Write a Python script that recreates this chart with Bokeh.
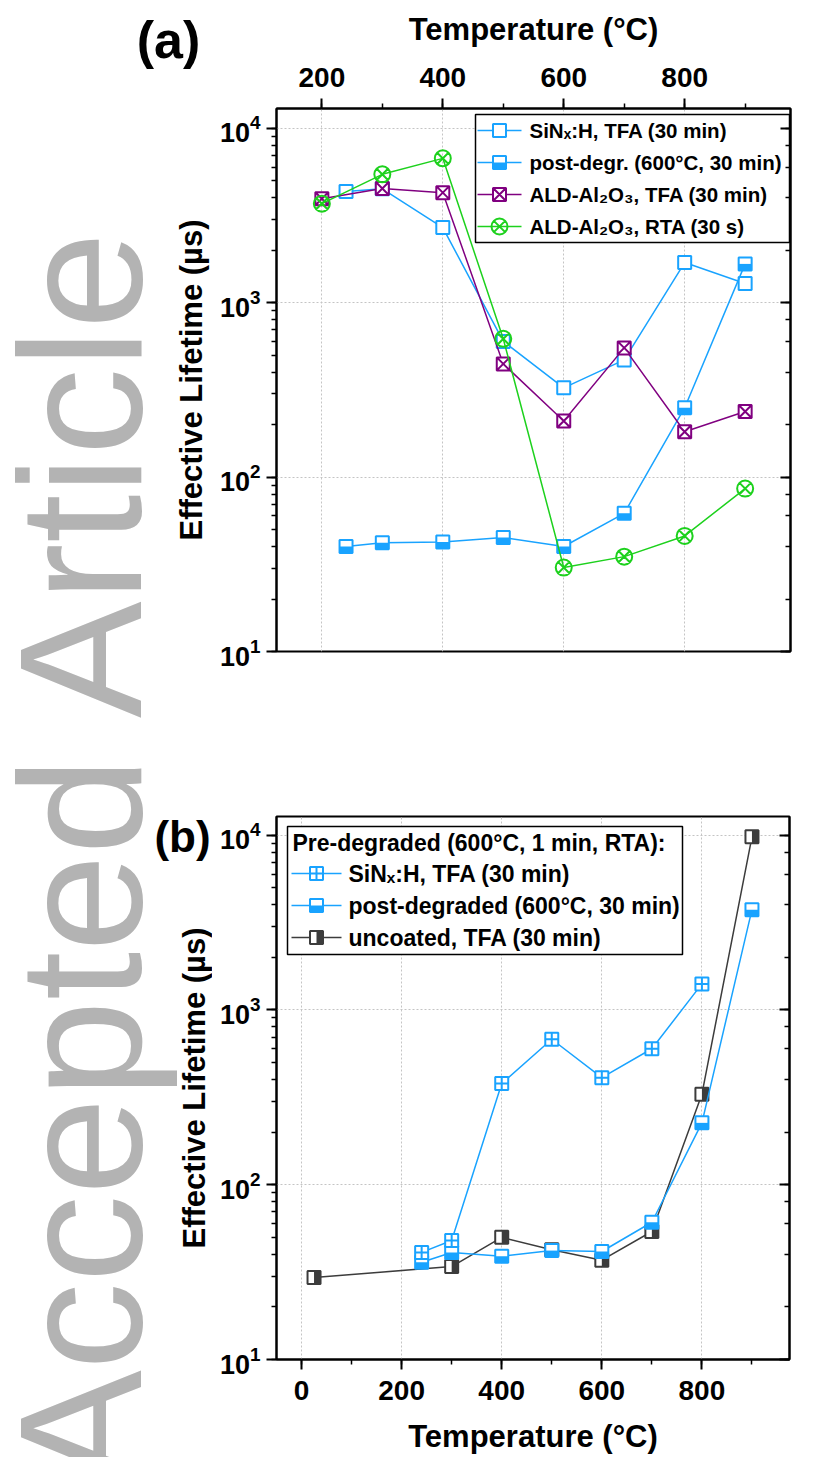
import numpy as np
from bokeh.plotting import figure
from bokeh.models import (Range1d, LogAxis, LogTicker, SingleIntervalTicker,
                          CustomJSTickFormatter)
from bokeh.layouts import column, row
from bokeh.embed import file_html
from bokeh.resources import INLINE
from bokeh.core.properties import value

# ---------------- data ----------------
# panel (a)
temps_a = [240, 300, 400, 500, 600, 700, 800, 900]
sin_tfa_a = [4350, 4500, 2700, 600, 325, 470, 1700, 1290]
post_degr_a = [40, 42, 42.5, 45, 40, 62, 250, 1670]
temps_ald = [200, 300, 400, 500, 600, 700, 800, 900]
ald_tfa = [3950, 4520, 4280, 446, 210, 551, 182, 238]
ald_rta = [3700, 5450, 6730, 621, 30.3, 35, 46, 86]

# panel (b)
temps_b_sin = [240, 300, 400, 500, 600, 700, 800]
sin_tfa_b = [41, 48, 380, 680, 410, 600, 1410]
temps_b_post = [240, 300, 400, 500, 600, 700, 800, 900]
post_degr_b = [36, 41, 39, 42, 41.5, 61, 226, 3750]
temps_b_unc = [25, 300, 400, 500, 600, 700, 800, 900]
uncoated_b = [29.5, 34, 50, 42.5, 37, 54, 330, 9800]

labels_a = ["SiNₓ:H, TFA (30 min)", "post-degr. (600°C, 30 min)",
            "ALD-Al₂O₃, TFA (30 min)", "ALD-Al₂O₃, RTA (30 s)"]
legend_title_b = "Pre-degraded (600°C, 1 min, RTA):"
labels_b = ["SiNₓ:H, TFA (30 min)", "post-degraded (600°C, 30 min)", "uncoated, TFA (30 min)"]
x_label = "Temperature (°C)"
y_label = "Effective Lifetime (µs)"
panel_tags = ["(a)", "(b)"]
watermark = "Accepted Article"

# ---------------- style / layout ----------------
FONT = "Liberation Sans"
BLUE = "#19A3FF"
PURPLE = "#800080"
GREEN = "#1DD11D"
DARK = "#3C3C3C"
GRID = "#c4c4c4"
WMC = "#b3b3b3"
MS = 13
LWM = 2
LWL = 1.5

SIDE_W = 212                       # left strip (watermark, tags, y-axis titles)
W = 812
XR_A, YR_A = (125, 975), (10, 13000)
XR_B, YR_B = (-50, 975), (10, 12800)
FW_A, FH_A = 514, 543
FW_B, FH_B = 513, 543
BORD_A = (61, W - SIDE_W - 61 - FW_A, 108, 61)    # left, right, top, bottom
BORD_B = (64, W - SIDE_W - 64 - FW_B, 104, 98)
H_A = BORD_A[2] + FH_A + BORD_A[3]
H_B = BORD_B[2] + FH_B + BORD_B[3]
H = H_A + H_B
# frame lower-left corner in page pixels
FRAME_A = (SIDE_W + BORD_A[0], BORD_A[2] + FH_A)
FRAME_B = (SIDE_W + BORD_B[0], H_A + BORD_B[2] + FH_B)

# legend geometry in page pixels
LGA = dict(box=(472, 786, 114, 242), rows=[130, 162, 194, 226], line=(474, 518),
           mark=496, text=526, size="20.5px")
LGB = dict(box=(287, 682, 826, 954), rows=[873, 905, 937], line=(291, 341),
           mark=316, text=348, size="23px", title=(292, 842))


def style_axis(ax, ticks_in=False, labels=True, tick_size="28px"):
    ax.axis_line_width = 2
    ax.axis_line_color = "black"
    ax.major_tick_line_width = 2
    ax.minor_tick_line_width = 1.5
    ax.major_tick_line_color = "black"
    ax.minor_tick_line_color = "black"
    if ticks_in:
        ax.major_tick_in, ax.major_tick_out = 10, 0
        ax.minor_tick_in, ax.minor_tick_out = 5, 0
    else:
        ax.major_tick_in, ax.major_tick_out = 0, 10
        ax.minor_tick_in, ax.minor_tick_out = 0, 5
    ax.major_label_text_font = FONT
    ax.major_label_text_font_style = "bold"
    ax.major_label_text_font_size = tick_size if labels else "0px"
    ax.major_label_text_color = "black"
    ax.axis_label_text_font = FONT
    ax.axis_label_text_font_style = "bold"
    ax.axis_label_text_font_size = "31px"
    ax.axis_label_text_color = "black"


def make_fig(xr, yr, fw, fh, xloc, borders, xstand):
    l, r, t, b = borders
    p = figure(frame_width=fw, frame_height=fh, x_range=Range1d(*xr), y_range=Range1d(*yr),
               y_axis_type="log", x_axis_location=xloc, toolbar_location=None,
               output_backend="svg", min_border_left=l, min_border_right=r,
               min_border_top=t, min_border_bottom=b)
    p.outline_line_color = "black"
    p.outline_line_width = 2
    p.outline_line_alpha = 1
    p.background_fill_color = "white"
    p.border_fill_color = "white"
    xa = p.xaxis[0]
    xa.ticker = SingleIntervalTicker(interval=200, num_minor_ticks=2)
    xa.axis_label = x_label
    style_axis(xa, tick_size="28px")
    xa.major_label_standoff = xstand[0]
    xa.axis_label_standoff = xstand[1]
    ya = p.yaxis[0]
    style_axis(ya, tick_size="27px")
    ya.major_label_standoff = 6
    ra = LogAxis(ticker=LogTicker(), formatter=CustomJSTickFormatter(code="return ''"))
    style_axis(ra, ticks_in=True, labels=False)
    p.add_layout(ra, "right")
    for g in (p.xgrid[0], p.ygrid[0]):
        g.grid_line_color = GRID
        g.grid_line_dash = "2 2"
        g.grid_line_width = 1
    return p


class Mapper:
    """Page pixel <-> data conversion for one panel (linear x, log y)."""
    def __init__(self, frame, xr, yr, fw, fh):
        self.fx, self.fy = frame
        self.xr, self.yr, self.fw, self.fh = xr, yr, fw, fh
        self.ppd = fh / np.log10(yr[1] / yr[0])

    def data(self, px, py):
        x = self.xr[0] + (px - self.fx) * (self.xr[1] - self.xr[0]) / self.fw
        y = self.yr[0] * 10 ** ((self.fy - py) / self.ppd)
        return x, y

    def yshift(self, pixels):      # multiplicative factor moving a point down by `pixels`
        return 10 ** (-pixels / self.ppd)

    def xshift(self, pixels):      # additive offset moving a point right by `pixels`
        return pixels * (self.xr[1] - self.xr[0]) / self.fw


def draw_markers(p, m, xs, ys, kind, color):
    if kind == "circle_x":
        p.scatter(xs, ys, marker="circle_x", size=MS + 3, line_color=color,
                  line_width=LWM, fill_color=None)
        return
    marker = {"open": "square", "half_b": "square", "half_r": "square",
              "sq_x": "square_x", "sq_cross": "square_cross"}[kind]
    p.scatter(xs, ys, marker=marker, size=MS, line_color=color, line_width=LWM,
              fill_color="white")
    if kind == "half_b":
        f = m.yshift(MS / 4)
        p.rect(x=xs, y=[v * f for v in ys], width=MS, height=MS / 2, width_units="screen",
               height_units="screen", fill_color=color, line_color=None)
    elif kind == "half_r":
        dx = m.xshift(MS / 4)
        p.rect(x=[v + dx for v in xs], y=ys, width=MS / 2, height=MS, width_units="screen",
               height_units="screen", fill_color=color, line_color=None)


def draw_series(p, m, xs, ys, kind, color):
    p.line(xs, ys, line_color=color, line_width=LWL)
    draw_markers(p, m, xs, ys, kind, color)


def draw_legend(p, m, geo, entries, title=None):
    l, r, t, b = geo["box"]
    x0, y0 = m.data(l, b)
    x1, y1 = m.data(r, t)
    p.quad(left=[x0], right=[x1], bottom=[y0], top=[y1], fill_color="white",
           line_color="black", line_width=1.5)
    txt = dict(text_font=value(FONT), text_font_style="bold", text_font_size=geo["size"],
               text_color="black", text_baseline="middle", text_align="left")
    if title:
        tx, ty = m.data(*geo["title"])
        p.text(x=[tx], y=[ty], text=[title], **txt)
    for (label, kind, color), py in zip(entries, geo["rows"]):
        xa, yy = m.data(geo["line"][0], py)
        xb, _ = m.data(geo["line"][1], py)
        xm, _ = m.data(geo["mark"], py)
        xt, _ = m.data(geo["text"], py)
        p.line([xa, xb], [yy, yy], line_color=color, line_width=LWL)
        draw_markers(p, m, [xm], [yy], kind, color)
        p.text(x=[xt], y=[yy], text=[label], **txt)


# ---------------- panel (a) ----------------
pa = make_fig(XR_A, YR_A, FW_A, FH_A, "above", BORD_A, (12, 18))
ma = Mapper(FRAME_A, XR_A, YR_A, FW_A, FH_A)
draw_series(pa, ma, temps_a, sin_tfa_a, "open", BLUE)
draw_series(pa, ma, temps_a, post_degr_a, "half_b", BLUE)
draw_series(pa, ma, temps_ald, ald_tfa, "sq_x", PURPLE)
draw_series(pa, ma, temps_ald, ald_rta, "circle_x", GREEN)
draw_legend(pa, ma, LGA, [(labels_a[0], "open", BLUE), (labels_a[1], "half_b", BLUE),
                          (labels_a[2], "sq_x", PURPLE), (labels_a[3], "circle_x", GREEN)])

# ---------------- panel (b) ----------------
pb = make_fig(XR_B, YR_B, FW_B, FH_B, "below", BORD_B, (11, 16))
mb = Mapper(FRAME_B, XR_B, YR_B, FW_B, FH_B)
draw_series(pb, mb, temps_b_unc, uncoated_b, "half_r", DARK)
draw_series(pb, mb, temps_b_post, post_degr_b, "half_b", BLUE)
draw_series(pb, mb, temps_b_sin, sin_tfa_b, "sq_cross", BLUE)
draw_legend(pb, mb, LGB, [(labels_b[0], "sq_cross", BLUE), (labels_b[1], "half_b", BLUE),
                          (labels_b[2], "half_r", DARK)], title=legend_title_b)

# ---------------- left strip: watermark, panel tags, y-axis titles ----------------
strip = figure(width=SIDE_W, height=H, x_range=Range1d(0, SIDE_W), y_range=Range1d(H, 0),
               min_border=0, x_axis_location=None, y_axis_location=None,
               toolbar_location=None, output_backend="svg")
strip.grid.visible = False
strip.outline_line_color = None
strip.background_fill_color = "white"
strip.border_fill_color = "white"
strip.text(x=[80], y=[854], text=[watermark], angle=90, angle_units="deg",
           text_font=value(FONT), text_font_size="175px", text_color=WMC,
           text_align="center", text_baseline="middle")
ylab_y = [(BORD_A[2] + FRAME_A[1]) / 2, (H_A + BORD_B[2] + FRAME_B[1]) / 2]
strip.text(x=[191, 194], y=ylab_y, text=[y_label, y_label], angle=90, angle_units="deg",
           text_font=value(FONT), text_font_style="bold", text_font_size="31px",
           text_color="black", text_align="center", text_baseline="middle")
strip.text(x=[168], y=[39], text=[panel_tags[0]], text_font=value(FONT),
           text_font_style="bold", text_font_size="52px", text_color="black",
           text_align="center", text_baseline="middle")
strip.text(x=[182], y=[836], text=[panel_tags[1]], text_font=value(FONT),
           text_font_style="bold", text_font_size="44px", text_color="black",
           text_align="center", text_baseline="middle")

layout = row(strip, column(pa, pb, spacing=0), spacing=0)
open("out.html", "w").write(file_html(layout, INLINE))
